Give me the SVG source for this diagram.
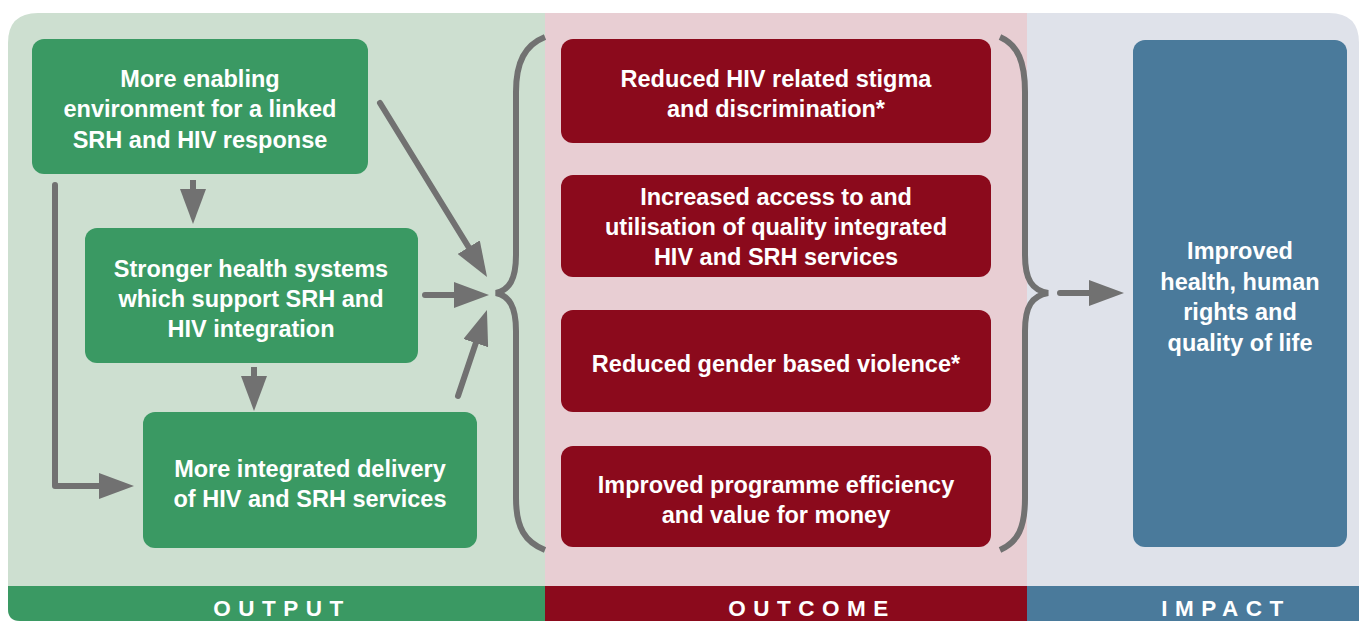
<svg xmlns="http://www.w3.org/2000/svg" width="1359" height="621" viewBox="0 0 1359 621">
<style>
.t{font-family:"Liberation Sans","DejaVu Sans",sans-serif;font-weight:bold;font-size:23.5px;fill:#ffffff;text-anchor:middle}
.lab{font-family:"Liberation Sans","DejaVu Sans",sans-serif;font-weight:bold;font-size:22.5px;fill:#ffffff;text-anchor:middle;letter-spacing:7.5px}
.g{fill:#3a9963}
.r{fill:#8b0a1c}
.b{fill:#4a7a9b}
.c{fill:none;stroke:#717171;stroke-width:6;stroke-linejoin:round}
.br{fill:none;stroke:#717171;stroke-width:6;stroke-linecap:butt}
</style>
<defs>
<clipPath id="bgclip">
<path d="M8,43 Q8,13 38,13 L1329,13 Q1359,13 1359,43 L1359,621 L20,621 Q8,621 8,609 Z"/>
</clipPath>
<marker id="ah" viewBox="0 0 35 26" refX="0" refY="13" markerWidth="35" markerHeight="26" markerUnits="userSpaceOnUse" orient="auto">
<path d="M0,0 L35,13 L0,26 Z" fill="#717171"/>
</marker>
</defs>
<g id="background" clip-path="url(#bgclip)">
<rect x="0" y="0" width="545" height="621" fill="#cddfd0"/>
<rect x="545" y="0" width="482" height="621" fill="#e8ced3"/>
<rect x="1027" y="0" width="340" height="621" fill="#dfe2ea"/>
<rect x="0" y="586" width="545" height="40" class="g"/>
<rect x="545" y="586" width="482" height="40" class="r"/>
<rect x="1027" y="586" width="340" height="40" class="b"/>
</g>
<g id="bar-labels">
<text class="lab" x="282" y="616">OUTPUT</text>
<text class="lab" x="812" y="616">OUTCOME</text>
<text class="lab" x="1226" y="616">IMPACT</text>
</g>
<g id="connectors">
<path class="c" d="M193,180 V189" marker-end="url(#ah)"/>
<path class="c" d="M254,367 V376" marker-end="url(#ah)"/>
<path class="c" d="M55,185 V486 H99" marker-end="url(#ah)" stroke-linecap="round"/>
<path class="c" d="M380,103 L468.7,247.2" marker-end="url(#ah)" stroke-linecap="round"/>
<path class="c" d="M425,295 H454" marker-end="url(#ah)" stroke-linecap="round"/>
<path class="c" d="M458,396 L475.8,343.1" marker-end="url(#ah)" stroke-linecap="round"/>
<path class="c" d="M1060,293 H1089" marker-end="url(#ah)" stroke-linecap="round"/>
<path id="brace-left" class="br" d="M545,37 C525,45 516,62 516,92 L516,255 C516,280 509,290 496,293 C509,296 516,306 516,331 L516,498 C516,528 525,542 545,550"/>
<path id="brace-right" class="br" d="M1000,37 C1018,45 1025,62 1025,92 L1025,255 C1025,280 1032,290 1048,293 C1032,296 1025,306 1025,331 L1025,498 C1025,528 1018,542 1000,550"/>
</g>
<g id="out1">
<rect class="g" x="32" y="39" width="336" height="135" rx="12"/>
<text class="t" x="200" y="87">More enabling</text>
<text class="t" x="200" y="117">environment for a linked</text>
<text class="t" x="200" y="148">SRH and HIV response</text>
</g>
<g id="out2">
<rect class="g" x="85" y="228" width="333" height="135" rx="12"/>
<text class="t" x="251" y="277">Stronger health systems</text>
<text class="t" x="251" y="307">which support SRH and</text>
<text class="t" x="251" y="337">HIV integration</text>
</g>
<g id="out3">
<rect class="g" x="143" y="412" width="334" height="136" rx="12"/>
<text class="t" x="310" y="477">More integrated delivery</text>
<text class="t" x="310" y="507">of HIV and SRH services</text>
</g>
<g id="oc1">
<rect class="r" x="561" y="39" width="430" height="104" rx="12"/>
<text class="t" x="776" y="87">Reduced HIV related stigma</text>
<text class="t" x="776" y="117">and discrimination*</text>
</g>
<g id="oc2">
<rect class="r" x="561" y="175" width="430" height="102" rx="12"/>
<text class="t" x="776" y="205">Increased access to and</text>
<text class="t" x="776" y="235">utilisation of quality integrated</text>
<text class="t" x="776" y="265">HIV and SRH services</text>
</g>
<g id="oc3">
<rect class="r" x="561" y="310" width="430" height="102" rx="12"/>
<text class="t" x="776" y="372">Reduced gender based violence*</text>
</g>
<g id="oc4">
<rect class="r" x="561" y="446" width="430" height="101" rx="12"/>
<text class="t" x="776" y="493">Improved programme efficiency</text>
<text class="t" x="776" y="523">and value for money</text>
</g>
<g id="impact">
<rect class="b" x="1133" y="40" width="214" height="507" rx="12"/>
<text class="t" x="1240" y="259">Improved</text>
<text class="t" x="1240" y="290">health, human</text>
<text class="t" x="1240" y="320">rights and</text>
<text class="t" x="1240" y="351">quality of life</text>
</g>
</svg>
